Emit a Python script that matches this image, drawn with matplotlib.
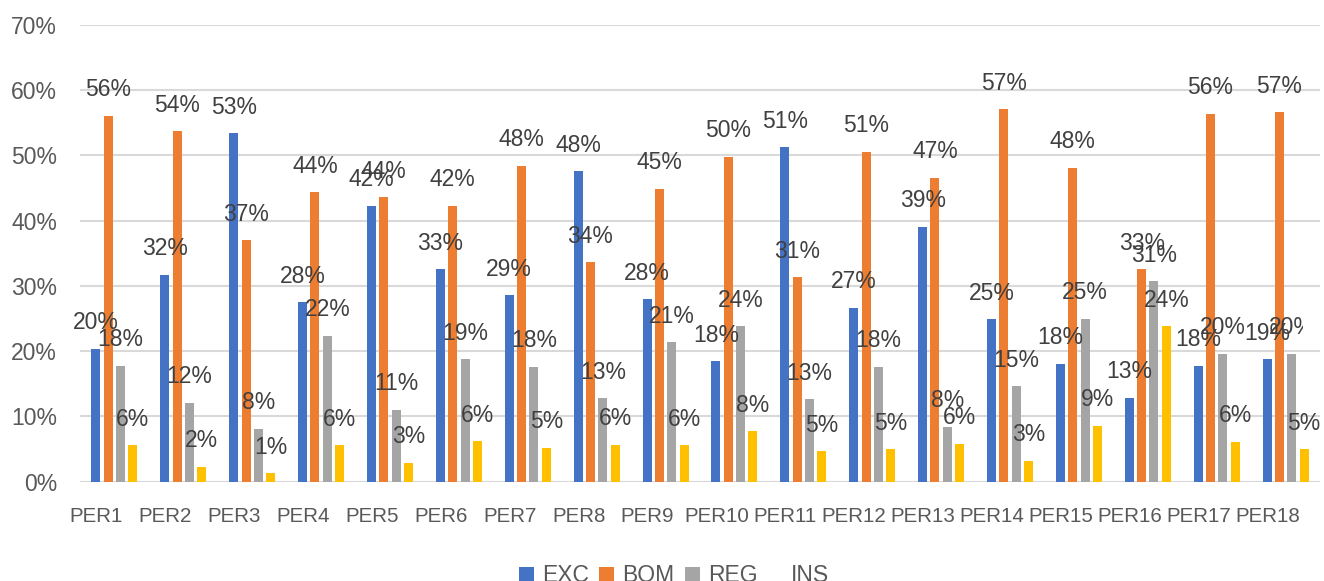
import numpy as np
import matplotlib
matplotlib.use("Agg")
import matplotlib.pyplot as plt
import matplotlib.transforms as mtransforms
from matplotlib.patches import Patch, Rectangle

# Dati (in percentuale)
categorie = [f"PER{i}" for i in range(1, 19)]
serie = ["EXC", "BOM", "REG", "INS"]
exc = [20.4, 31.7, 53.4, 27.5, 42.3, 32.6, 28.6, 47.6, 28.0, 18.5, 51.3, 26.7, 39.1, 24.9, 18.1, 12.9, 17.8, 18.8]
bom = [56.1, 53.7, 37.0, 44.4, 43.6, 42.3, 48.4, 33.6, 44.9, 49.8, 31.3, 50.6, 46.6, 57.1, 48.1, 32.6, 56.4, 56.6]
reg = [17.8, 12.1, 8.1, 22.4, 11.0, 18.8, 17.6, 12.8, 21.4, 23.8, 12.6, 17.6, 8.4, 14.6, 25.0, 30.7, 19.6, 19.6]
ins = [5.6, 2.3, 1.3, 5.6, 2.9, 6.2, 5.2, 5.7, 5.6, 7.7, 4.7, 5.0, 5.8, 3.2, 8.6, 23.8, 6.1, 5.0]
yticks = [0, 10, 20, 30, 40, 50, 60, 70]

colori = ["#4472C4", "#ED7D31", "#A5A5A5", "#FFC000"]

plt.rcParams['font.family'] = ['Liberation Sans', 'DejaVu Sans']

W, H = 1324, 581
fig = plt.figure(figsize=(W / 100, H / 100), dpi=100)
ax = fig.add_axes([80 / W, 1 - 481.7 / H, 1240 / W, (481.7 - 25) / H])

x = np.arange(len(categorie))
larghezza = 0.132
passo = 0.179
valori = [exc, bom, reg, ins]

# nel riferimento l'ultima etichetta REG e' tagliata a destra
clip_rect = Rectangle((0, 0), 1303 / W, 1, transform=fig.transFigure, visible=False)
fig.add_artist(clip_rect)

for k, (nome, vals) in enumerate(zip(serie, valori)):
    pos = x + (k - 1.5) * passo
    ax.bar(pos, vals, width=larghezza, color=colori[k], zorder=3, label=nome)
    for j, (xi, v) in enumerate(zip(pos, vals)):
        t = ax.annotate(f"{v:.0f}%", (xi, v), xytext=(0, 14),
                        textcoords='offset points', ha='center', va='baseline',
                        fontsize=16.5, color='#404040', zorder=4,
                        annotation_clip=False)
        if nome == "REG" and j == len(vals) - 1:
            t.set_clip_path(clip_rect)

ax.set_xlim(-0.5, len(categorie) - 0.5)
ax.set_ylim(0, 70)
ax.set_yticks(yticks)
ax.set_yticklabels([f"{v}%" for v in yticks])
ax.set_xticks(x)
ax.set_xticklabels(categorie)
ax.tick_params(axis='y', length=0, pad=16.5, labelsize=16.5, labelcolor='#595959')
ax.tick_params(axis='x', length=0, pad=18, labelsize=14.8, labelcolor='#595959')

# sposta le etichette delle categorie un po' a sinistra
offset = mtransforms.ScaledTranslation(-18 / 100, 0, fig.dpi_scale_trans)
for lab in ax.get_xticklabels():
    lab.set_transform(lab.get_transform() + offset)

ax.grid(axis='y', color='#D9D9D9', linewidth=1.5, zorder=0)
ax.set_axisbelow(True)
for s in ax.spines.values():
    s.set_visible(False)

# Legenda in basso (il quadrato di INS non compare nel riferimento)
handles = [Patch(facecolor=colori[0]), Patch(facecolor=colori[1]),
           Patch(facecolor=colori[2]), Patch(facecolor='none', edgecolor='none')]
fig.legend(handles, serie, loc='center', bbox_to_anchor=(674 / W, 1 - 576 / H),
           ncol=4, frameon=False, fontsize=16.5, labelcolor='#595959',
           handlelength=0.65, handleheight=0.65, handletextpad=0.35,
           columnspacing=0.45, borderpad=0)

fig.savefig("out.png", dpi=100)
